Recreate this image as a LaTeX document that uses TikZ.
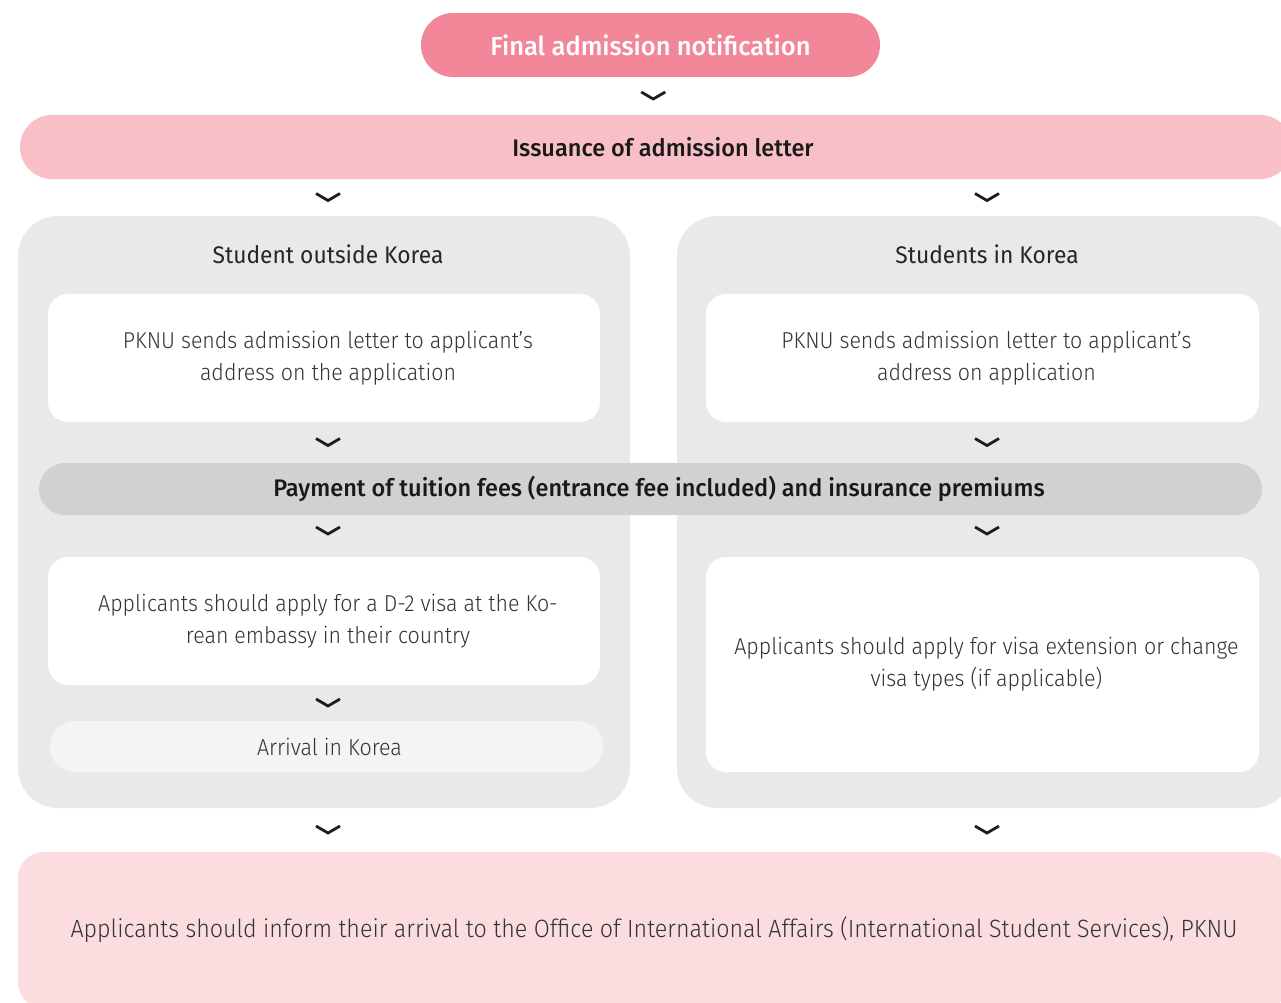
\documentclass[tikz,border=0pt]{standalone}
\usepackage{fontspec}
\setmainfont{Fira Sans}[UprightFont=* Light, BoldFont=* Medium,
  UprightFeatures={FakeStretch=0.93}, BoldFeatures={FakeStretch=0.98}]
\newfontfamily\regfont{Fira Sans}[FakeStretch=0.95]
\usetikzlibrary{calc}
\definecolor{pinkdark}{HTML}{F28799}
\definecolor{pinkmid}{HTML}{F8BFC6}
\definecolor{pinklight}{HTML}{FBDDE0}
\definecolor{panelgray}{HTML}{E8E9EB}
\definecolor{bargray}{HTML}{D0D1D3}
\definecolor{arrivalgray}{HTML}{F3F4F4}
\definecolor{txt}{HTML}{333333}
\definecolor{chevcol}{HTML}{1E1E1E}
\tikzset{
  box/.style={rectangle, inner sep=0pt, align=center, text=txt,
    font=\fontsize{23}{32}\selectfont},
  pillbox/.style={box, rounded corners=#1},
  panel/.style={rectangle, rounded corners=40pt, fill=panelgray, inner sep=0pt},
  whitebox/.style={box, fill=white, rounded corners=20pt},
  heading/.style={inner sep=0pt, text=black!90, font=\bfseries\fontsize{24}{30}\selectfont},
  paneltitle/.style={inner sep=0pt, text=black!85, font=\regfont\fontsize{24}{30}\selectfont},
  chevline/.style={draw=chevcol, line width=2.8pt, line join=miter, line cap=butt},
  chev/.pic={\draw[chevline] (-12,-4) -- (0,3) -- (12,-4);}
}
\begin{document}
\begin{tikzpicture}[x=1pt,y=-1pt]
\useasboundingbox (0,0) rectangle (1281,1002);
\clip (0,0) rectangle (1281,1002);
\fill[white] (0,0) rectangle (1281,1002);

% top
\node[pillbox=32pt, fill=pinkdark, minimum width=459pt, minimum height=64pt,
  text=white, font=\bfseries\fontsize{26}{30}\selectfont] (final) at (650.5,45) {Final admission notification};
\node[pillbox=32pt, fill=pinkmid, minimum width=1272pt, minimum height=64pt,
  heading] (issue) at (656,147) {\hspace*{14pt}Issuance of admission letter};

% panels
\node[panel, minimum width=612pt, minimum height=592pt] (lpanel) at (324,512) {};
\node[panel, minimum width=616pt, minimum height=592pt] (rpanel) at (985,512) {};
\node[paneltitle] (ltitle) at (328,254) {Student outside Korea};
\node[paneltitle] (rtitle) at (987,254) {Students in Korea};

\node[whitebox, minimum width=552pt, minimum height=128pt] (lsend) at (324,358)
  {\hspace*{8pt}PKNU sends admission letter to applicant's\\\hspace*{8pt}address on the application};
\node[whitebox, minimum width=553pt, minimum height=128pt] (rsend) at (982.5,358)
  {\hspace*{8pt}PKNU sends admission letter to applicant's\\\hspace*{8pt}address on application};

\node[pillbox=26pt, fill=bargray, minimum width=1223pt, minimum height=52pt,
  heading] (pay) at (650.5,489) {\hspace*{17pt}Payment of tuition fees (entrance fee included) and insurance premiums};

\node[whitebox, minimum width=552pt, minimum height=128pt] (lvisa) at (324,621)
  {\hspace*{8pt}Applicants should apply for a D-2 visa at the Ko-\\\hspace*{8pt}rean embassy in their country};
\node[whitebox, minimum width=553pt, minimum height=215pt] (rvisa) at (982.5,664.5)
  {\hspace*{8pt}Applicants should apply for visa extension or change\\\hspace*{8pt}visa types (if applicable)};

\node[pillbox=25pt, fill=arrivalgray, minimum width=553pt, minimum height=51pt] (arrive) at (326.5,746.5)
  {\hspace*{6pt}Arrival in Korea};

\node[box, fill=pinklight, rounded corners=26pt, minimum width=1272pt, minimum height=156pt,
  font=\fontsize{25}{32}\selectfont] (inform) at (654,930)
  {Applicants should inform their arrival to the Office of International Affairs (International Student Services), PKNU};

% chevron positions between named nodes
\coordinate (c1) at ($(final.south)!0.5!(issue.north)$);
\coordinate (c2) at ($(issue.south)!0.5!(lpanel.north)$);
\coordinate (c3) at ($(lsend.south)!0.5!(pay.north)$);
\coordinate (c4) at ($(pay.south)!0.5!(lvisa.north)+(0,-5)$);
\coordinate (c5) at ($(lvisa.south)!0.5!(arrive.north)$);
\coordinate (c6) at ($(lpanel.south)!0.5!(inform.north)$);

\pic at (c1) {chev};
\pic at (ltitle |- c2) {chev};
\pic at (rtitle |- c2) {chev};
\pic at (ltitle |- c3) {chev};
\pic at (rtitle |- c3) {chev};
\pic at (ltitle |- c4) {chev};
\pic at (rtitle |- c4) {chev};
\pic at (ltitle |- c5) {chev};
\pic at (ltitle |- c6) {chev};
\pic at (rtitle |- c6) {chev};
\end{tikzpicture}
\end{document}
